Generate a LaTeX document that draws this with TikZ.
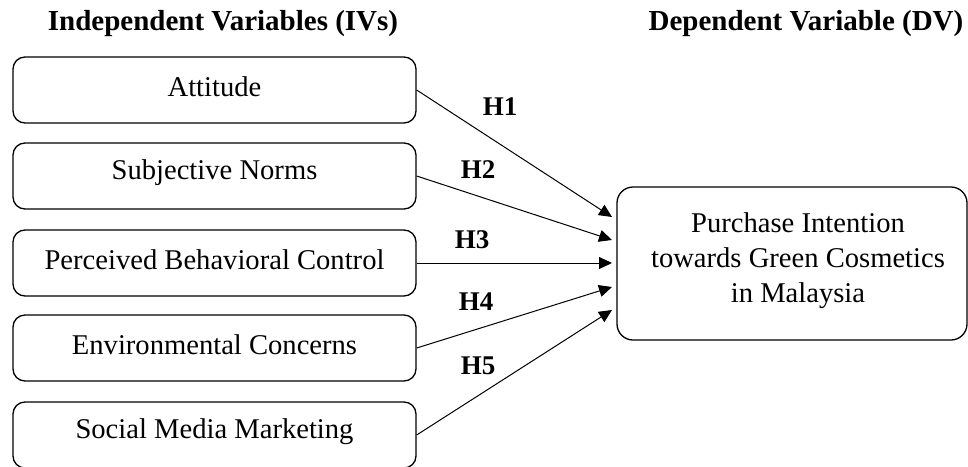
\documentclass[tikz,border=0pt]{standalone}
\usepackage{fontspec}
\setmainfont{Liberation Serif}
\usetikzlibrary{arrows.meta}
\begin{document}
\begin{tikzpicture}[x=1pt,y=-1pt,
  ivbox/.style={draw, line width=1.3pt, rounded corners=12pt,
    minimum width=403pt, minimum height=66pt, inner sep=0pt},
  dvbox/.style={draw, line width=1.3pt, rounded corners=16pt,
    minimum width=350pt, minimum height=153pt, inner sep=0pt},
  boxtext/.style={align=center, font=\fontsize{28.6}{35}\selectfont},
  head/.style={font=\fontsize{29}{34}\selectfont\bfseries},
  hlab/.style={font=\fontsize{27}{32}\selectfont\bfseries},
  link/.style={line width=1pt, -{Triangle[length=13pt,width=12pt]}}]
\useasboundingbox (0,0) rectangle (968,466);

% headings
\node[head] (hiv) at (223,24) {Independent Variables (IVs)};
\node[head] (hdv) at (806,24) {Dependent Variable (DV)};

% independent variables (boxes, then their labels set slightly above centre)
\node[ivbox] (att) at (214.5,90)  {};
\node[ivbox] (sn)  at (214.5,176) {};
\node[ivbox] (pbc) at (214.5,263) {};
\node[ivbox] (ec)  at (214.5,348) {};
\node[ivbox] (smm) at (214.5,435) {};
\node[boxtext] (latt) at ([yshift=3pt]att.center) {Attitude};
\node[boxtext] (lsn)  at ([yshift=3pt]sn.center)  {Subjective Norms};
\node[boxtext] (lpbc) at ([yshift=3pt]pbc.center) {Perceived Behavioral Control};
\node[boxtext] (lec)  at ([yshift=3pt]ec.center)  {Environmental Concerns};
\node[boxtext] (lsmm) at ([yshift=3pt]smm.center) {Social Media Marketing};

% dependent variable
\node[dvbox] (dv) at (792,263.5) {};
\node[boxtext] (ldv) at ([xshift=6pt,yshift=3pt]dv.center)
  {Purchase Intention\\towards Green Cosmetics\\in Malaysia};

% arrow tips along the left side of the DV box
\coordinate (t1) at (612,217);
\coordinate (t2) at (612,240);
\coordinate (t3) at (612,263);
\coordinate (t4) at (612,287);
\coordinate (t5) at (612,310);

\draw[link] (att.east) -- (t1);
\draw[link] (sn.east)  -- (t2);
\draw[link] (pbc.east) -- (t3);
\draw[link] (ec.east)  -- (t4);
\draw[link] (smm.east) -- (t5);

% hypothesis labels
\node[hlab] (h1) at (500,107) {H1};
\node[hlab] (h2) at (478,170) {H2};
\node[hlab] (h3) at (472,240) {H3};
\node[hlab] (h4) at (476,302) {H4};
\node[hlab] (h5) at (478,366) {H5};
\end{tikzpicture}
\end{document}
